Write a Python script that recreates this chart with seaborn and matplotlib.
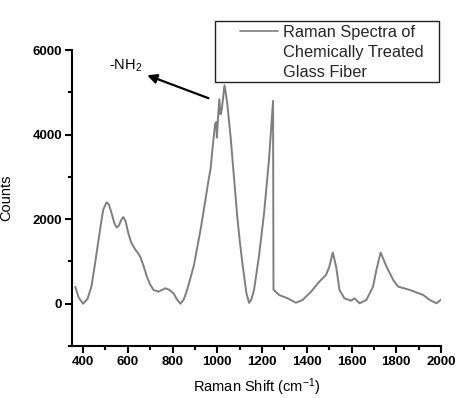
import numpy as np
import pandas as pd
import matplotlib
matplotlib.use("Agg")
import matplotlib.pyplot as plt
from matplotlib.lines import Line2D
from matplotlib.patches import Rectangle
import seaborn as sns

# Raman spectrum
wavenumber = [365, 380, 400, 420, 437, 452, 467, 480, 490, 505, 515, 527, 540, 550,
              560, 572, 580, 590, 602, 615, 632, 645, 655, 670, 685, 700, 715, 737,
              755, 767, 785, 804, 820, 835, 850, 865, 895, 925, 945, 960, 970, 978,
              983, 990, 995, 998, 1003, 1009, 1014, 1020, 1032, 1044, 1059, 1074,
              1089, 1100, 1112, 1130, 1142, 1152, 1164, 1186, 1209, 1231, 1249, 1251,
              1276, 1314, 1351, 1381, 1419, 1456, 1486, 1501, 1516, 1531, 1546, 1568,
              1598, 1613, 1636, 1666, 1696, 1711, 1730, 1756, 1786, 1808, 1861, 1920,
              1950, 1980, 2000]
counts = [400, 150, 0, 120, 400, 900, 1435, 1900, 2225, 2400, 2350, 2150, 1900, 1805,
          1850, 2000, 2050, 1950, 1672, 1450, 1292, 1200, 1116, 900, 641, 450, 325, 285,
          330, 366, 330, 247, 100, 0, 100, 325, 900, 1750, 2400, 2900, 3200, 3650,
          3900, 4250, 4300, 3930, 4400, 4838, 4480, 4600, 5170, 4760, 3966, 3016,
          2066, 1500, 960, 247, 20, 100, 325, 1116, 2147, 3413, 4800, 330,
          207, 128, 24, 88, 285, 522, 682, 880, 1211, 880, 325, 128,
          71, 128, 10, 88, 404, 800, 1211, 880, 563, 404, 325, 207,
          88, 10, 100]

legend_lines = ["Raman Spectra of", "Chemically Treated", "Glass Fiber"]
annot_text = "-NH$_2$"
annot_text_pos = (592, 5620)
arrow_head = (675, 5430)
arrow_tail = (972, 4840)

line_color = "#7f7f7f"

df = pd.DataFrame({"Raman Shift": wavenumber, "Counts": counts})

sns.set_theme(style="ticks")
plt.rcParams["font.family"] = ["Liberation Sans", "DejaVu Sans"]
plt.rcParams["mathtext.default"] = "regular"

fig = plt.figure(figsize=(4.58, 3.98), dpi=100)
ax = fig.add_axes([0.157, 0.1307, 0.806, 0.7433])

sns.lineplot(data=df, x="Raman Shift", y="Counts", ax=ax, color=line_color,
             linewidth=1.4, sort=False, estimator=None)

ax.set_xlim(350, 2000)
ax.set_ylim(-1000, 6000)
ax.set_xticks(np.arange(400, 2001, 200))
ax.set_xticks(np.arange(500, 2000, 200), minor=True)
ax.set_yticks([0, 2000, 4000, 6000])
ax.set_yticks([-1000, 1000, 3000, 5000], minor=True)

for side in ["top", "right"]:
    ax.spines[side].set_visible(False)
for side in ["left", "bottom"]:
    ax.spines[side].set_linewidth(1.5)
    ax.spines[side].set_color("black")

ax.tick_params(axis="both", which="major", length=5, width=1.5, labelsize=9.5,
               colors="black", pad=2)
ax.tick_params(axis="both", which="minor", length=3, width=1.5, colors="black")
for lbl in ax.get_xticklabels() + ax.get_yticklabels():
    lbl.set_fontweight("bold")

ax.set_xlabel("Raman Shift (cm$^{-1}$)", fontsize=10.5, color="black", labelpad=6)
ax.set_ylabel("Counts", fontsize=10.5, color="black", labelpad=14)

ax.annotate("", xy=arrow_head, xytext=arrow_tail,
            arrowprops=dict(arrowstyle="-|>", color="black", lw=1.6,
                            mutation_scale=14))
ax.text(annot_text_pos[0], annot_text_pos[1], annot_text, fontsize=10.5,
        ha="center", va="center", color="black")

# legend: first row carries the line, the other rows only continue the text
handles = [Line2D([], [], color=line_color, linewidth=1.2),
           Line2D([], [], linestyle="none"),
           Line2D([], [], linestyle="none")]
leg = fig.legend(handles, legend_lines, loc="upper left",
                 bbox_to_anchor=(240 / 458, 1 - 25 / 398), borderaxespad=0,
                 borderpad=0, frameon=False, fontsize=11.8, handlelength=2.3,
                 handletextpad=0.3, labelspacing=0.3)
fig.patches.append(Rectangle((215 / 458, 1 - 82 / 398), 224 / 458, 61 / 398,
                             transform=fig.transFigure, fill=False,
                             edgecolor="#222222", linewidth=1.0))

fig.savefig("out.png", dpi=100)
plt.close(fig)
